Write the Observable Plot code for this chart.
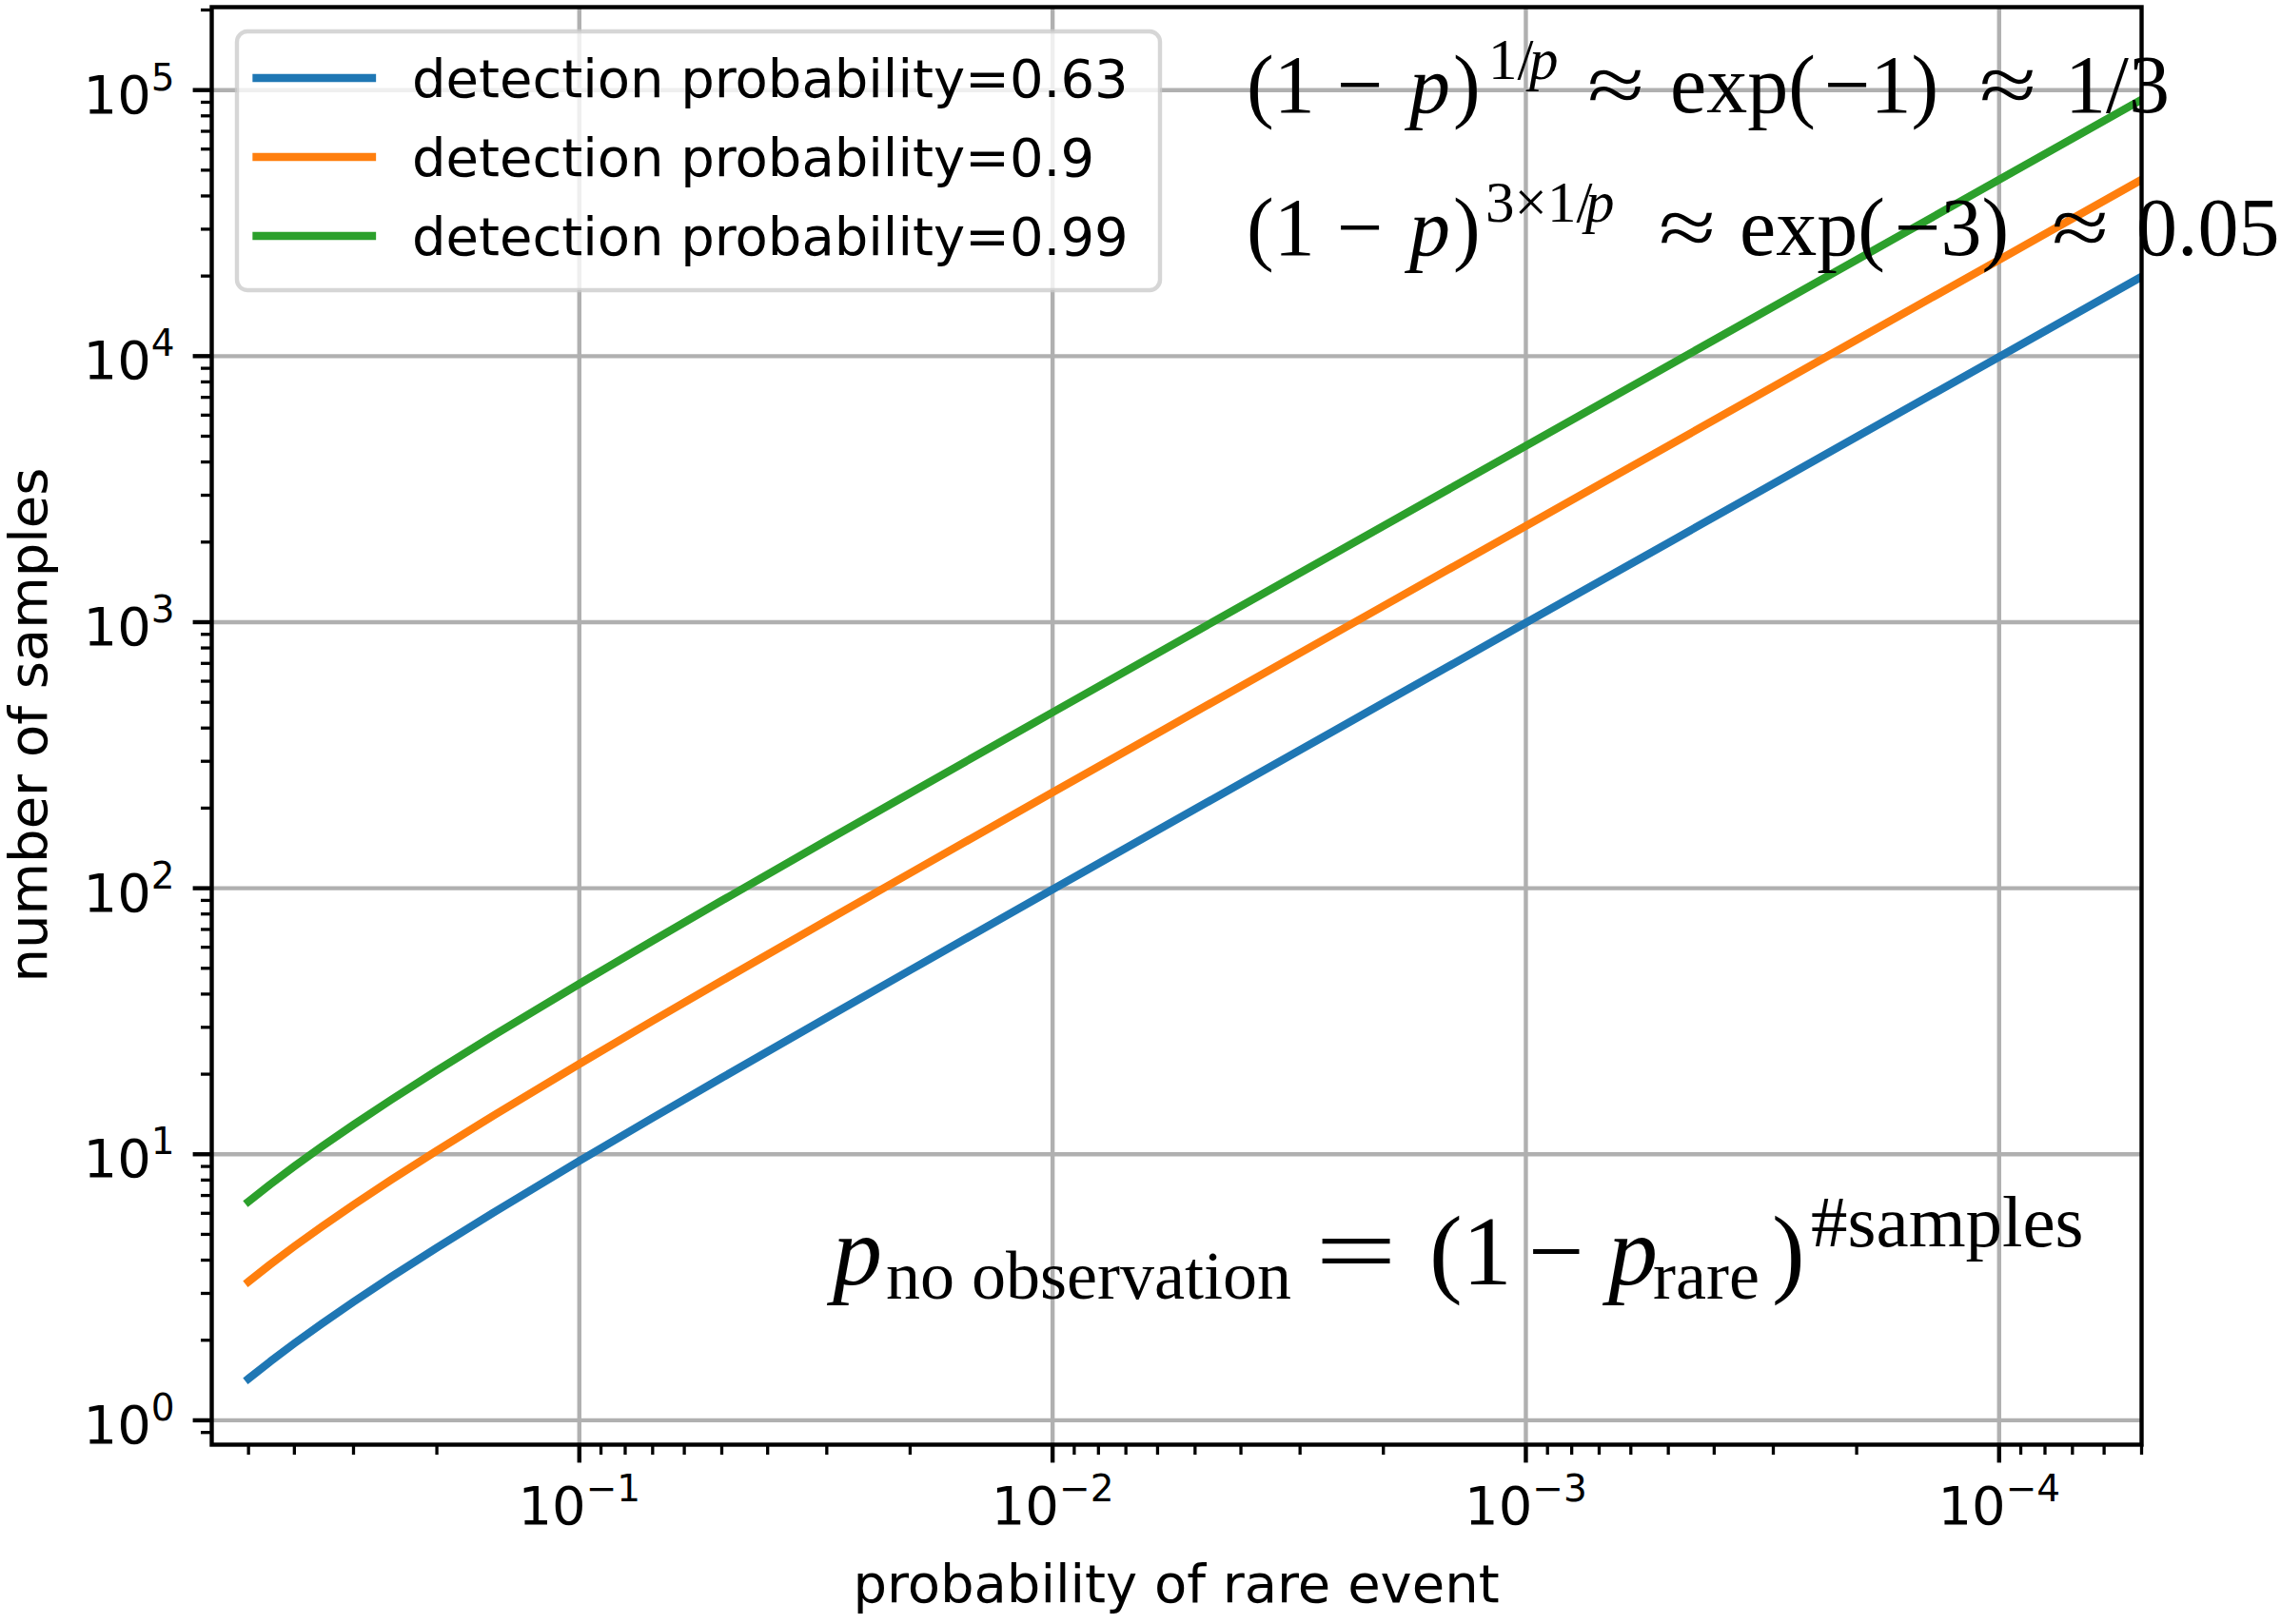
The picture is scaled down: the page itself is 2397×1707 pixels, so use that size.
<!DOCTYPE html>
<html>
<head>
<meta charset="utf-8">
<script src="https://cdn.jsdelivr.net/npm/d3@7"></script>
<script src="https://cdn.jsdelivr.net/npm/@observablehq/plot@0.6"></script>
<style>
  html, body { margin: 0; padding: 0; background: white; }
  svg { display: block; }
</style>
</head>
<body>
<div id="chart"></div>
<script>
// ---- data ----
const pRare = [0.5, 0.45, 0.4, 0.35, 0.3, 0.25, 0.2, 0.15, 0.1, 0.07, 0.05, 0.03, 0.02, 0.01, 0.005, 0.002, 0.001, 0.0005, 0.0002, 0.0001, 0.00005];
const samples063 = [1.434, 1.663, 1.946, 2.308, 2.788, 3.456, 4.456, 6.118, 9.437, 13.70, 19.38, 32.64, 49.21, 98.93, 198.4, 496.6, 993.8, 1988, 4971, 9942, 19885];
const samples090 = [3.322, 3.852, 4.508, 5.345, 6.456, 8.004, 10.32, 14.17, 21.85, 31.73, 44.89, 75.60, 113.97, 229.1, 459.4, 1150, 2301, 4604, 11512, 23025, 46051];
const samples099 = [6.644, 7.703, 9.015, 10.69, 12.91, 16.01, 20.64, 28.34, 43.71, 63.46, 89.78, 151.2, 227.9, 458.2, 918.7, 2300, 4603, 9208, 23024, 46050, 92102];
const seriesNames = ["detection probability=0.63", "detection probability=0.9", "detection probability=0.99"];
const seriesColors = ["#1f77b4", "#ff7f0e", "#2ca02c"];
const seriesValues = [samples063, samples090, samples099];

const xMajorTicks = [1e-1, 1e-2, 1e-3, 1e-4];
const yMajorTicks = [1e0, 1e1, 1e2, 1e3, 1e4, 1e5];
const xDomain = [0.598, 5e-5];
const yDomain = [0.81, 2.05e5];
const xLabel = "probability of rare event";
const yLabel = "number of samples";

// minor ticks (2..9 x 10^k) inside the domains
function minorTicks(lo, hi) {
  const out = [];
  for (let e = -6; e <= 6; e++) for (let m = 2; m <= 9; m++) {
    const v = m * Math.pow(10, e);
    if (v >= lo && v <= hi) out.push(v);
  }
  return out;
}
const xMinorTicks = minorTicks(5e-5, 0.6);
const yMinorTicks = minorTicks(0.81, 2.05e5);

const data = [];
seriesNames.forEach((name, i) => {
  pRare.forEach((p, j) => data.push({p, n: seriesValues[i][j], series: name}));
});

const pow10 = d => "10^" + String(Math.round(Math.log10(d))).replace("-", "\u2212");
const LW = 4.4;
const FS = 56;

const chart = Plot.plot({
  width: 2397,
  height: 1707,
  marginLeft: 222,
  marginRight: 147,
  marginTop: 7,
  marginBottom: 189,
  style: {background: "white", fontFamily: "DejaVu Sans", color: "black", overflow: "visible"},
  x: {type: "log", domain: xDomain},
  y: {type: "log", domain: yDomain},
  color: {domain: seriesNames, range: seriesColors},
  marks: [
    Plot.gridX(xMajorTicks, {stroke: "#b0b0b0", strokeOpacity: 1, strokeWidth: LW}),
    Plot.gridY(yMajorTicks, {stroke: "#b0b0b0", strokeOpacity: 1, strokeWidth: LW}),
    Plot.line(data, {x: "p", y: "n", z: "series", stroke: "series", strokeWidth: 8.3, strokeLinecap: "square", strokeLinejoin: "round", clip: true}),
    Plot.frame({stroke: "black", strokeWidth: LW}),
    // major tick marks
    Plot.axisX(xMajorTicks, {anchor: "bottom", tickSize: 19.4, strokeWidth: LW, tickFormat: () => "", label: null}),
    Plot.axisY(yMajorTicks, {anchor: "left", tickSize: 19.4, strokeWidth: LW, tickFormat: () => "", label: null}),
    // minor tick marks
    Plot.axisX(xMinorTicks, {anchor: "bottom", tickSize: 11, strokeWidth: 3.3, tickFormat: () => "", label: null}),
    Plot.axisY(yMinorTicks, {anchor: "left", tickSize: 11, strokeWidth: 3.3, tickFormat: () => "", label: null}),
    // tick labels
    Plot.axisX(xMajorTicks, {anchor: "bottom", tickSize: 0, tickPadding: 38.8, fontSize: FS, tickFormat: pow10, label: null, dy: 4.5}),
    Plot.axisY(yMajorTicks, {anchor: "left", tickSize: 0, tickPadding: 38.8, fontSize: FS, tickFormat: pow10, label: null, dy: 6})
  ]
});

document.getElementById("chart").appendChild(chart);
const svg = d3.select(chart);

// turn "10^k" into 10 with a superscript
svg.selectAll("text").each(function () {
  const m = /^10\^(.+)$/.exec(this.textContent);
  if (!m) return;
  const t = d3.select(this);
  t.text("10");
  t.append("tspan").attr("dy", -24).attr("font-size", 39).text(m[1]);
});

// axis labels
svg.append("text")
  .attr("x", 1236).attr("y", 1684)
  .attr("text-anchor", "middle")
  .attr("font-family", "DejaVu Sans").attr("font-size", FS).attr("fill", "black")
  .text(xLabel);
svg.append("text")
  .attr("transform", "translate(49,762) rotate(-90)")
  .attr("text-anchor", "middle")
  .attr("font-family", "DejaVu Sans").attr("font-size", FS).attr("fill", "black")
  .text(yLabel);

// legend
const lg = svg.append("g").attr("text-anchor", "start");
lg.append("rect")
  .attr("x", 249).attr("y", 33).attr("width", 970).attr("height", 272)
  .attr("rx", 11).attr("ry", 11)
  .attr("fill", "white").attr("fill-opacity", 0.8)
  .attr("stroke", "#cccccc").attr("stroke-opacity", 0.8).attr("stroke-width", LW);
seriesNames.forEach((name, i) => {
  const cy = 82 + i * 83;
  lg.append("line")
    .attr("x1", 269.5).attr("x2", 391).attr("y1", cy).attr("y2", cy)
    .attr("stroke", seriesColors[i]).attr("stroke-width", 8.3).attr("stroke-linecap", "square");
  lg.append("text")
    .attr("x", 433).attr("y", cy + 20)
    .attr("text-anchor", "start")
    .attr("font-family", "DejaVu Sans").attr("font-size", FS).attr("fill", "black")
    .text(name);
});

// math annotations
function mathText(parts) {
  const t = svg.append("text")
    .attr("text-anchor", "start")
    .attr("font-family", "Liberation Serif, Times New Roman, serif")
    .attr("fill", "black");
  parts.forEach(([s, x, y, size, italic, len]) => {
    const ts = t.append("tspan").attr("x", x).attr("y", y).attr("font-size", size)
      .attr("text-anchor", "start")
      .attr("font-style", italic ? "italic" : "normal").text(s);
    if (len) ts.attr("textLength", len).attr("lengthAdjust", "spacingAndGlyphs");
  });
}
const M1 = 86, S1 = 61;
mathText([
  ["(1", 1310, 118, M1], ["\u2212", 1405, 118, M1], ["p", 1481, 118, M1, true], [")", 1527, 118, M1],
  ["1/", 1564, 83, S1], ["p", 1607, 83, S1, true],
  ["\u2248", 1668, 118, M1, false, 60], ["exp(", 1755, 118, M1], ["\u22121)", 1917, 118, M1],
  ["\u2248", 2080, 118, M1, false, 60], ["1/3", 2170, 118, M1]
]);
mathText([
  ["(1", 1310, 268, M1], ["\u2212", 1405, 268, M1], ["p", 1481, 268, M1, true], [")", 1527, 268, M1],
  ["3\u00d71/", 1561, 233, S1], ["p", 1666, 233, S1, true],
  ["\u2248", 1743, 268, M1, false, 60], ["exp(", 1828, 268, M1], ["\u22123)", 1991, 268, M1],
  ["\u2248", 2156, 268, M1, false, 60], ["0.05", 2245, 268, M1]
]);
const M3 = 104, S3 = 72;
mathText([
  ["p", 875, 1350, M3, true], ["no observation", 931, 1365, S3],
  ["=", 1382, 1350, M3, false, 86], ["(1", 1502, 1350, M3], ["\u2212", 1606, 1350, M3],
  ["p", 1690, 1350, M3, true], ["rare", 1737, 1365, S3], [")", 1862, 1350, M3],
  ["#samples", 1903, 1310, 77]
]);
</script>
</body>
</html>
